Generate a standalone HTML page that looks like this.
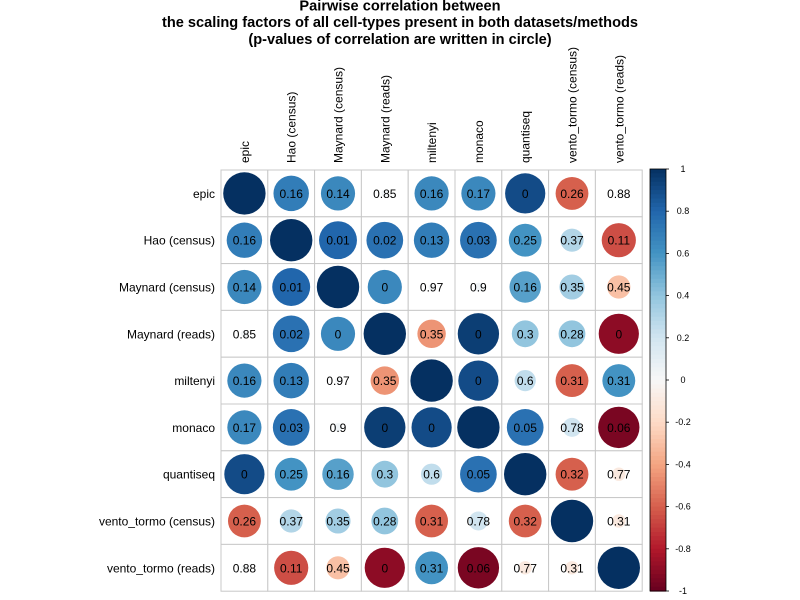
<!DOCTYPE html>
<html><head><meta charset="utf-8"><style>
body{margin:0;background:#fff;}
svg{display:block;font-family:"Liberation Sans",sans-serif;}
</style></head><body>
<svg id="chart" width="800" height="600">
<g font-weight="bold" font-size="14.6" text-anchor="middle">
<text x="400" y="10.5">Pairwise correlation between</text>
<text x="400" y="27">the scaling factors of all cell-types present in both datasets/methods</text>
<text x="400" y="44">(p-values of correlation are written in circle)</text>
</g>
</svg>
<script>
const labels = ["epic","Hao (census)","Maynard (census)","Maynard (reads)","miltenyi","monaco","quantiseq","vento_tormo (census)","vento_tormo (reads)"];
const corr = [
[1,0.7,0.65,0.03,0.65,0.65,0.9,-0.6,0.02],
[0.7,1,0.8,0.75,0.7,0.75,0.6,0.3,-0.65],
[0.65,0.8,1,0.65,0.02,0.04,0.55,0.35,-0.3],
[0.03,0.75,0.65,1,-0.45,0.95,0.4,0.4,-0.9],
[0.65,0.7,0.02,-0.45,1,0.9,0.25,-0.6,0.6],
[0.65,0.75,0.04,0.95,0.9,1,0.75,0.2,-0.95],
[0.9,0.6,0.55,0.4,0.25,0.75,1,-0.6,-0.1],
[-0.6,0.3,0.35,0.4,-0.6,0.2,-0.6,1,-0.1],
[0.02,-0.65,-0.3,-0.9,0.6,-0.95,-0.1,-0.1,1]];
const pvals = [
[null,"0.16","0.14","0.85","0.16","0.17","0","0.26","0.88"],
["0.16",null,"0.01","0.02","0.13","0.03","0.25","0.37","0.11"],
["0.14","0.01",null,"0","0.97","0.9","0.16","0.35","0.45"],
["0.85","0.02","0",null,"0.35","0","0.3","0.28","0"],
["0.16","0.13","0.97","0.35",null,"0","0.6","0.31","0.31"],
["0.17","0.03","0.9","0","0",null,"0.05","0.78","0.06"],
["0","0.25","0.16","0.3","0.6","0.05",null,"0.32","0.77"],
["0.26","0.37","0.35","0.28","0.31","0.78","0.32",null,"0.31"],
["0.88","0.11","0.45","0","0.31","0.06","0.77","0.31",null]];
const barTicks = ["1","0.8","0.6","0.4","0.2","0","-0.2","-0.4","-0.6","-0.8","-1"];

const svg = document.getElementById('chart');
const NS = "http://www.w3.org/2000/svg";
const x0 = 221, y0 = 170, cell = 46.8, n = labels.length;
const pal = ["#67001F","#B2182B","#D6604D","#F4A582","#FDDBC7","#F7F7F7","#D1E5F0","#92C5DE","#4393C3","#2166AC","#053061"];
function hex(h){return [1,3,5].map(i=>parseInt(h.substr(i,2),16));}
function color(v){
  const t = (Math.max(-1,Math.min(1,v))+1)/2*(pal.length-1);
  const i = Math.min(pal.length-2, Math.floor(t)), f = t-i;
  const a = hex(pal[i]), b = hex(pal[i+1]);
  return "rgb("+a.map((c,k)=>Math.round(c+(b[k]-c)*f)).join(",")+")";
}
function mk(tag, attrs){const e=document.createElementNS(NS,tag);for(const k in attrs)e.setAttribute(k,attrs[k]);svg.appendChild(e);return e;}
const xs = j => x0 + cell*j + cell/2;
const ys = i => y0 + cell*i + cell/2;

for(let i=0;i<n;i++){
  for(let j=0;j<n;j++){
    const r = mk('rect',{x:x0+cell*j,y:y0+cell*i,width:cell,height:cell,fill:'#fff',stroke:'#c8c8c8','stroke-width':1});
    
    
    const v = corr[i][j];
    const c = mk('circle',{cx:xs(j),cy:ys(i),r:21.2*Math.sqrt(Math.abs(v)),fill:color(v)});
    
    
    if(pvals[i][j]!==null){
      const t = mk('text',{x:xs(j),y:ys(i)+4.5,'text-anchor':'middle','font-size':12,fill:'#000'});
      t.textContent = pvals[i][j];
      
      
    }
  }
  const rl = mk('text',{x:215,y:ys(i)+4.5,'text-anchor':'end','font-size':12});
  rl.textContent = labels[i];
  
  
  const cl = mk('text',{x:0,y:0,'font-size':12,transform:'translate('+(xs(i)+4.5)+',163) rotate(-90)'});
  cl.textContent = labels[i];
  
  
}
// color bar
const bx = 650, bt = 169, bb = 591, steps = 100;
for(let k=0;k<steps;k++){
  const v = 1 - 2*(k+0.5)/steps;
  const r = mk('rect',{x:bx,y:bt+(bb-bt)*k/steps,width:16,height:(bb-bt)/steps+0.6,fill:color(v)});
  
  
}
const fr = mk('rect',{x:bx,y:bt,width:16,height:bb-bt,fill:'none',stroke:'#000','stroke-width':0.8});


barTicks.forEach((lab,k)=>{
  const y = bt + (bb-bt)*k/(barTicks.length-1);
  const l = mk('line',{x1:bx+16,x2:bx+19,y1:y,y2:y,stroke:'#000','stroke-width':0.8});
  
  
  const t = mk('text',{x:683,y:y+3,'text-anchor':'middle','font-size':9});
  t.textContent = lab;
  
  
});
</script>
</body></html>
